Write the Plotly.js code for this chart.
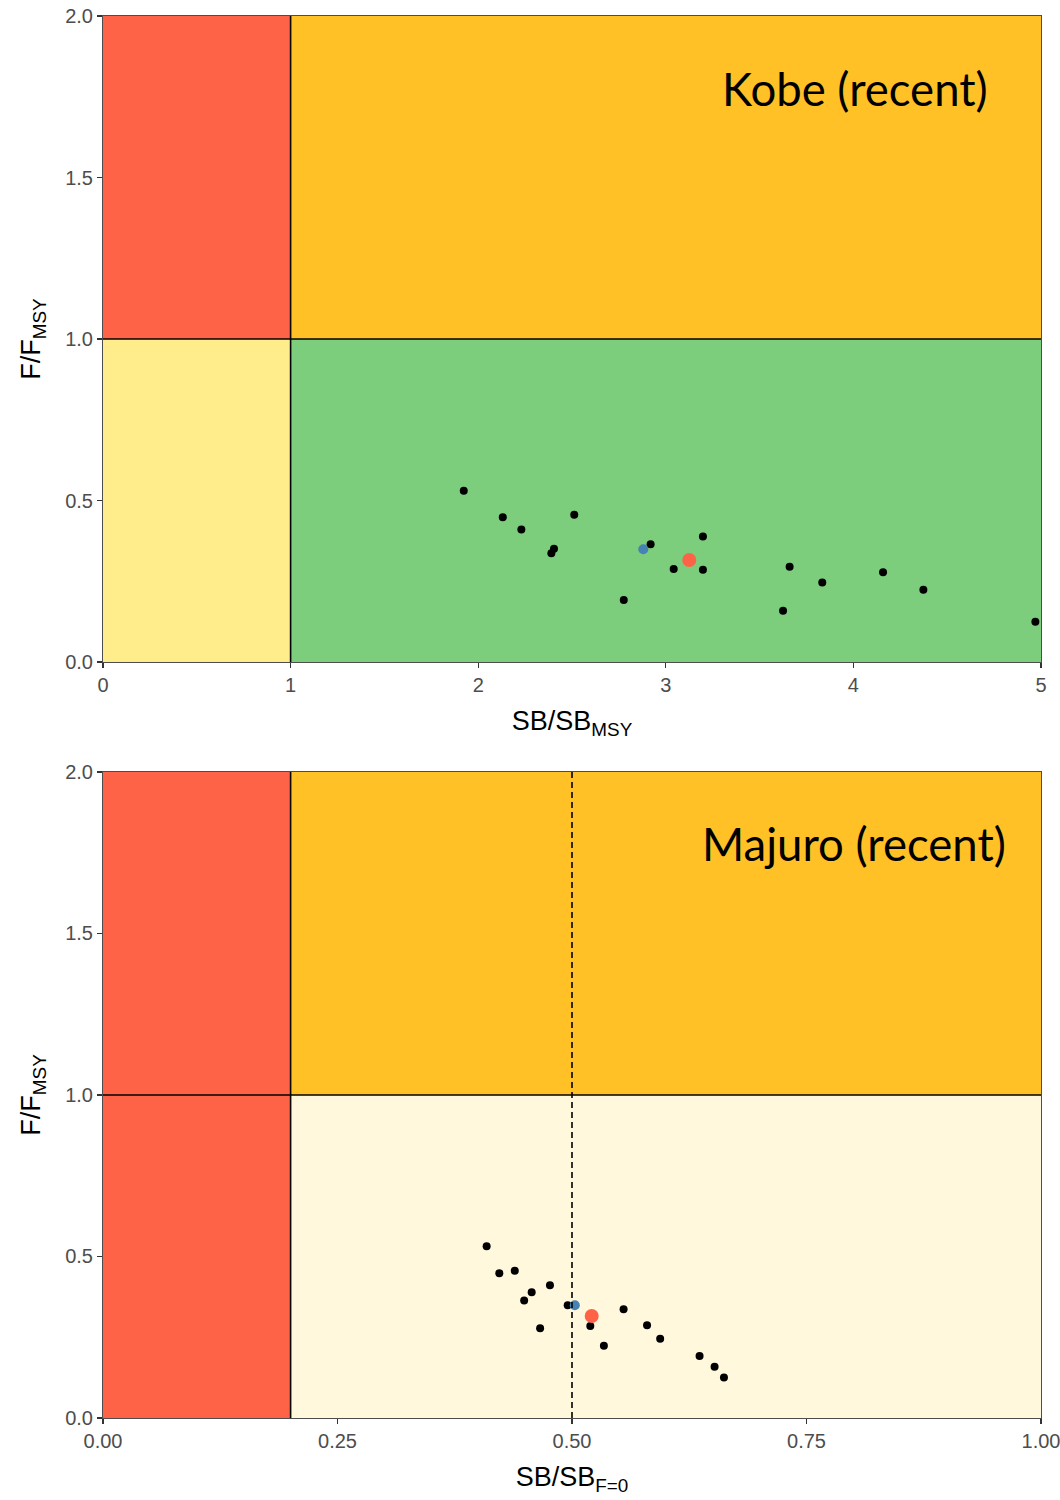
<!DOCTYPE html>
<html>
<head>
<meta charset="utf-8">
<script src="https://cdn.plot.ly/plotly-3.0.1.min.js"></script>
<style>html,body{margin:0;padding:0;background:#fff;}#chart{width:1060px;height:1500px;}</style>
</head>
<body>
<div id="chart"></div>
<script>
// ---- Data ----
const kobeX = [1.923, 2.131, 2.230, 2.512, 2.404, 2.390, 2.919, 3.042, 3.198, 3.198, 2.776, 3.660, 3.834, 4.158, 4.373, 3.625, 4.970];
const kobeY = [0.530, 0.448, 0.410, 0.456, 0.351, 0.337, 0.365, 0.288, 0.389, 0.286, 0.192, 0.295, 0.246, 0.278, 0.224, 0.159, 0.125];
const kobeBlueX = [2.880], kobeBlueY = [0.349];
const kobeRedX = [3.125], kobeRedY = [0.316];

const majuroX = [0.409, 0.4225, 0.439, 0.4765, 0.457, 0.449, 0.4954, 0.5195, 0.466, 0.555, 0.580, 0.594, 0.534, 0.636, 0.652, 0.662];
const majuroY = [0.532, 0.448, 0.456, 0.411, 0.389, 0.364, 0.349, 0.285, 0.278, 0.337, 0.287, 0.245, 0.224, 0.192, 0.159, 0.125];
const majuroBlueX = [0.503], majuroBlueY = [0.349];
const majuroRedX = [0.521], majuroRedY = [0.316];

const kobeXRange = [0, 5], majuroXRange = [0, 1], fRange = [0, 2];
const kobeLimit = 1, majuroLimit = 0.2, majuroTarget = 0.5, fLimit = 1;
const kobeTicks = [0, 1, 2, 3, 4, 5];
const majuroTicks = [0, 0.25, 0.5, 0.75, 1.0];
const fTicks = [0, 0.5, 1.0, 1.5, 2.0];
const kobeLabel = 'Kobe (recent)', majuroLabel = 'Majuro (recent)';

// ---- Styles ----
const RED = '#FF6347', ORANGE = '#FFC125', YELLOW = '#FFEC8B', GREEN = '#7CCD7C', CREAM = '#FFF8DC';
const tickFont = {family: 'Liberation Sans Narrow, Liberation Sans, Arial, sans-serif', size: 20, color: '#4D4D4D'};
const titleFont = {family: 'Liberation Sans Narrow, Liberation Sans, Arial, sans-serif', size: 27, color: '#000'};

function pts(x, y, xa, ya, color, size) {
  return {x: x, y: y, xaxis: xa, yaxis: ya, type: 'scatter', mode: 'markers',
          marker: {color: color, size: size, line: {width: 0}}, showlegend: false, hoverinfo: 'x+y'};
}
const data = [
  pts(kobeX, kobeY, 'x', 'y', '#000', 8),
  pts(kobeBlueX, kobeBlueY, 'x', 'y', '#4682B4', 10),
  pts(kobeRedX, kobeRedY, 'x', 'y', RED, 14),
  pts(majuroX, majuroY, 'x2', 'y2', '#000', 8),
  pts(majuroBlueX, majuroBlueY, 'x2', 'y2', '#4682B4', 10),
  pts(majuroRedX, majuroRedY, 'x2', 'y2', RED, 14)
];

function rect(xr, yr, x0, x1, y0, y1, color) {
  return {type: 'rect', xref: xr, yref: yr, x0: x0, x1: x1, y0: y0, y1: y1,
          fillcolor: color, line: {width: 0}, layer: 'below'};
}
function line(xr, yr, x0, x1, y0, y1, dash) {
  return {type: 'line', xref: xr, yref: yr, x0: x0, x1: x1, y0: y0, y1: y1,
          line: {color: '#000', width: 1.6, dash: dash || 'solid'}, layer: 'above'};
}
const shapes = [
  rect('x', 'y', kobeXRange[0], kobeLimit, fLimit, fRange[1], RED),
  rect('x', 'y', kobeLimit, kobeXRange[1], fLimit, fRange[1], ORANGE),
  rect('x', 'y', kobeXRange[0], kobeLimit, fRange[0], fLimit, YELLOW),
  rect('x', 'y', kobeLimit, kobeXRange[1], fRange[0], fLimit, GREEN),
  line('x', 'y', kobeLimit, kobeLimit, fRange[0], fRange[1]),
  line('x', 'y', kobeXRange[0], kobeXRange[1], fLimit, fLimit),
  rect('x2', 'y2', majuroXRange[0], majuroLimit, fRange[0], fRange[1], RED),
  rect('x2', 'y2', majuroLimit, majuroXRange[1], fLimit, fRange[1], ORANGE),
  rect('x2', 'y2', majuroLimit, majuroXRange[1], fRange[0], fLimit, CREAM),
  line('x2', 'y2', majuroLimit, majuroLimit, fRange[0], fRange[1]),
  line('x2', 'y2', majuroXRange[0], majuroXRange[1], fLimit, fLimit),
  line('x2', 'y2', majuroTarget, majuroTarget, fRange[0], fRange[1], '6px,4px')
];

function xaxis(range, ticks, fmt, title, anchor) {
  return {range: range, tickvals: ticks, tickformat: fmt, anchor: anchor,
          showgrid: false, zeroline: false, showline: true, mirror: true,
          linecolor: '#4D4D4D', linewidth: 1, ticks: 'outside', ticklen: 5, tickcolor: '#333', tickwidth: 1.2,
          ticklabeloverflow: 'allow',
          tickfont: tickFont, title: {text: title, font: titleFont, standoff: 16}, fixedrange: true};
}
function yaxis(domain, anchor) {
  return {range: fRange, tickvals: fTicks, tickformat: '.1f', domain: domain, anchor: anchor,
          showgrid: false, zeroline: false, showline: true, mirror: true,
          linecolor: '#4D4D4D', linewidth: 1, ticks: 'outside', ticklen: 5, tickcolor: '#333', tickwidth: 1.2,
          tickfont: tickFont, title: {text: 'F/F<sub>MSY</sub>', font: titleFont, standoff: 16}, fixedrange: true};
}

const annFont = {family: 'Lato, Open Sans, sans-serif', size: 45.5, color: '#000'};
const layout = {
  width: 1060, height: 1500,
  margin: {l: 103, r: 19, t: 16, b: 82},
  paper_bgcolor: '#fff', plot_bgcolor: '#fff',
  showlegend: false,
  xaxis: xaxis(kobeXRange, kobeTicks, 'd', 'SB/SB<sub>MSY</sub>', 'y'),
  yaxis: yaxis([0.5392, 1], 'x'),
  xaxis2: xaxis(majuroXRange, majuroTicks, '.2f', 'SB/SB<sub>F=0</sub>', 'y2'),
  yaxis2: yaxis([0, 0.4608], 'x2'),
  shapes: shapes,
  annotations: [
    {xref: 'x', yref: 'y', x: 4.728, y: 1.777, xanchor: 'right', yanchor: 'middle', text: kobeLabel, showarrow: false, font: annFont},
    {xref: 'x2', yref: 'y2', x: 0.965, y: 1.780, xanchor: 'right', yanchor: 'middle', text: majuroLabel, showarrow: false, font: annFont}
  ]
};
Plotly.newPlot('chart', data, layout, {displayModeBar: false, staticPlot: true});
</script>
</body>
</html>
